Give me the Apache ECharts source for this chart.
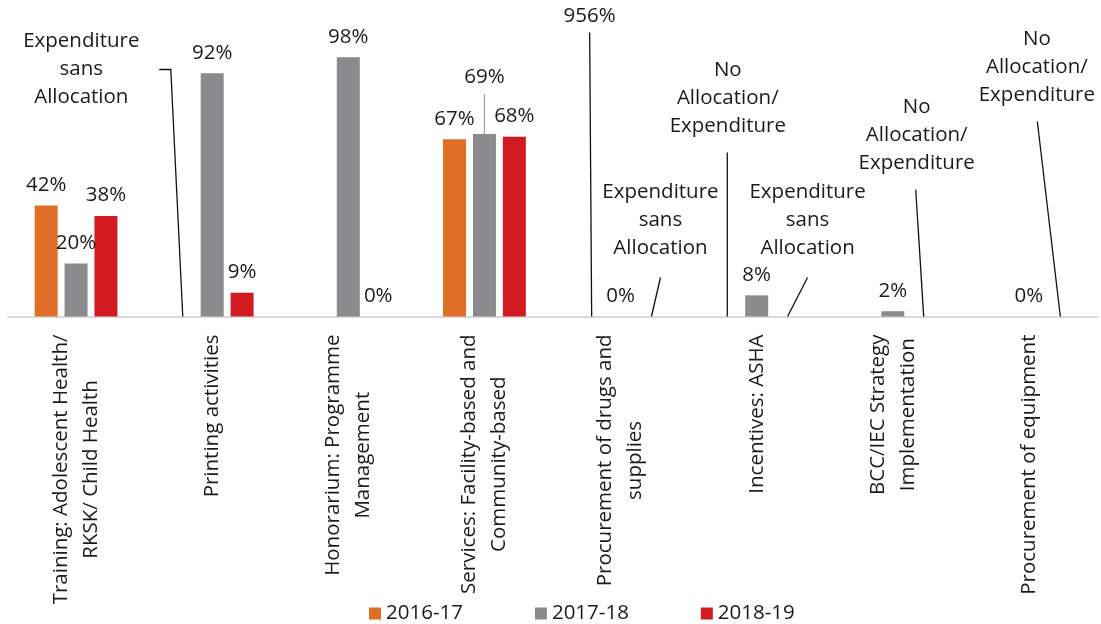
<!DOCTYPE html>
<html>
<head>
<meta charset="utf-8">
<script src="https://cdn.jsdelivr.net/npm/echarts@6.0.0/dist/echarts.min.js"></script>
<style>
  html, body { margin: 0; padding: 0; background: #fff; }
  #main { width: 1101px; height: 624px; }
</style>
</head>
<body>
<div id="main"></div>
<script>
const categories = [
  'Training: Adolescent Health/\nRKSK/ Child Health',
  'Printing activities',
  'Honorarium: Programme\nManagement',
  'Services: Facility-based and\nCommunity-based',
  'Procurement of drugs and\nsupplies',
  'Incentives: ASHA',
  'BCC/IEC Strategy\nImplementation',
  'Procurement of equipment'
]
const years = ['2016-17', '2017-18', '2018-19']
const s2016 = [42, null, null, 67, 956, null, null, null]
const s2017 = [20, 92, 98, 69, 0, 8, 2, 0]
const s2018 = [38, 9, 0, 68, null, null, null, null]
const colors = ['#E06E26', '#8B8B8D', '#D21B21']

const sansAlloc = 'Expenditure\nsans\nAllocation'
const noAlloc = 'No\nAllocation/\nExpenditure'
// notes with a leader line: [category, series, text] (null text = show the value)
const leaderNotes = [
  [1, 0, sansAlloc],
  [3, 1, null],
  [4, 0, null],
  [4, 2, sansAlloc],
  [5, 0, noAlloc],
  [5, 2, sansAlloc],
  [6, 2, noAlloc],
  [7, 2, noAlloc]
]
// leader line shape and label centre, px offsets from the bar foot
const leaderLayout = [
  { line: [[0.5, 0], [-11.5, -247], [-23, -247]], label: [-101, -247] },
  { line: [[0, 0], [0, -40]], label: [0, -57], color: '#a6a6a6' },
  { line: [[1, 0], [-1, -284]], label: [-1, -300] },
  { line: [[1, 0], [10, -39]], label: [10, -96] },
  { line: [[0.5, 0], [0.5, -164]], label: [1, -218] },
  { line: [[1, 0], [21, -39]], label: [21, -96] },
  { line: [[1, 0], [-7, -127]], label: [-6, -181] },
  { line: [[1.5, 0], [-21.5, -195]], label: [-22, -249] }
]

const yMax = 100
const barWidth = 23
const barGap = 0.3
const barPitch = barWidth * (1 + barGap)
const font = '"Open Sans", "DejaVu Sans", sans-serif'
const fontSize = 20.5
const textColor = '#1a1a1a'

const seriesValues = [s2016, s2017, s2018]

function isNoted(cat, s) {
  return leaderNotes.some(n => n[0] === cat && n[1] === s)
}

function anchorValue(n) {
  const v = seriesValues[n[1]][n[0]]
  return v != null && v <= yMax ? v : 0
}

const barSeries = seriesValues.map((vals, s) => ({
  name: years[s],
  type: 'bar',
  barWidth: barWidth,
  barGap: (barGap * 100) + '%',
  itemStyle: { color: colors[s] },
  label: {
    show: true,
    position: 'top',
    distance: 10,
    formatter: '{c}%',
    fontFamily: font,
    fontSize: fontSize,
    color: textColor
  },
  data: vals.map((v, i) => {
    if (v == null) return null
    const item = { value: v }
    if (isNoted(i, s)) item.label = { show: false }
    if (v > yMax) item.itemStyle = { color: 'rgba(0,0,0,0)' }
    return item
  })
}))

const noteSeries = {
  type: 'custom',
  silent: true,
  clip: false,
  z: 5,
  data: leaderNotes.map(n => [n[0], anchorValue(n)]),
  renderItem: function (params, api) {
    const n = leaderNotes[params.dataIndex]
    const lay = leaderLayout[params.dataIndex]
    const foot = api.coord([api.value(0), api.value(1)])
    const x0 = foot[0] + (n[1] - 1) * barPitch
    const y0 = foot[1]
    const text = n[2] != null ? n[2] : seriesValues[n[1]][n[0]] + '%'
    return {
      type: 'group',
      children: [
        {
          type: 'polyline',
          shape: { points: lay.line.map(p => [x0 + p[0], y0 + p[1]]) },
          style: { stroke: lay.color || '#111', lineWidth: 1.3, fill: null }
        },
        {
          type: 'text',
          x: x0 + lay.label[0],
          y: y0 + lay.label[1],
          style: {
            text: text,
            align: 'center',
            verticalAlign: 'middle',
            fontFamily: font,
            fontSize: fontSize,
            lineHeight: 28,
            fill: textColor
          }
        }
      ]
    }
  }
}

const chart = echarts.init(document.getElementById('main'))
chart.setOption({
  animation: false,
  color: colors,
  grid: { left: 8, right: 4, top: 52, bottom: 307.5, outerBoundsMode: 'none' },
  legend: {
    data: years,
    left: 364,
    top: 598,
    icon: 'rect',
    itemWidth: 12,
    itemHeight: 12,
    itemGap: 72,
    textStyle: { fontFamily: font, fontSize: fontSize, color: textColor }
  },
  xAxis: {
    type: 'category',
    data: categories,
    axisLine: { lineStyle: { color: '#d9d9d9', width: 2 } },
    axisTick: { show: false },
    axisLabel: {
      interval: 0,
      rotate: 90,
      margin: 18,
      formatter: v => v.split('\n').map(s => '{c|' + s + '}').join('\n'),
      rich: {
        c: { align: 'center', fontFamily: font, fontSize: fontSize, lineHeight: 30, color: textColor }
      }
    }
  },
  yAxis: {
    type: 'value',
    min: 0,
    max: yMax,
    show: false,
    splitLine: { show: false }
  },
  series: barSeries.concat([noteSeries])
})
</script>
</body>
</html>
